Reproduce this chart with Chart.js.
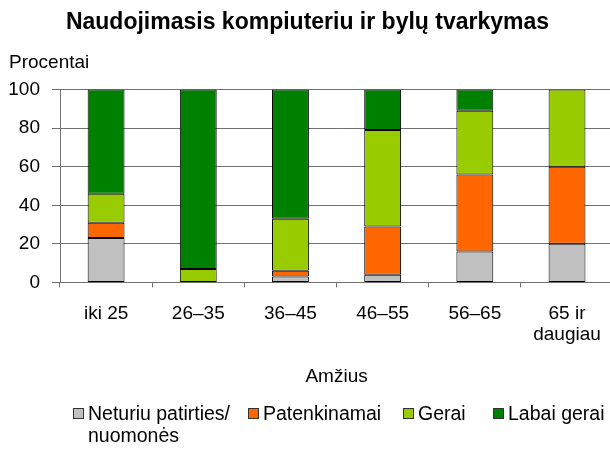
<!DOCTYPE html>
<html>
<head>
<meta charset="utf-8">
<script src="https://cdn.jsdelivr.net/npm/chart.js@4/dist/chart.umd.min.js"></script>
<style>
  body { margin: 0; width: 610px; height: 449px; overflow: hidden; background: #fff; font-family: "Liberation Sans", Arial, sans-serif; }
  #wrap { position: relative; width: 617px; height: 449px; }
  #ylab { position: absolute; left: 9px; top: 51px; font-size: 19px; color: #000; }
  .leg { position: absolute; top: 402px; font-size: 19.5px; line-height: 22px; color: #000; padding-left: 15px; }
  .leg i { position: absolute; left: 0; top: 6px; width: 11px; height: 11px; border: 1px solid #333; box-sizing: border-box; }
</style>
</head>
<body>
<div id="wrap">
  <canvas id="chart" width="617" height="449"></canvas>
  <div id="ylab">Procentai</div>
  <div id="legend"></div>
</div>
<script>
// age groups
const categories = ["iki 25", "26–35", "36–45", "46–55", "56–65", ["65 ir", "daugiau"]]

// percent of answers in each group
const neturiu = [23, 0, 3, 4, 16, 20]
const patenkinamai = [8, 0, 3, 25, 40, 40]
const gerai = [15, 7, 27, 50, 33, 40]
const labaiGerai = [54, 93, 67, 21, 11, 0]

const seriesNames = ["Neturiu patirties/\nnuomonės", "Patenkinamai", "Gerai", "Labai gerai"]
const seriesColors = ["#C0C0C0", "#FF6600", "#99CC00", "#008000"]
const yTicks = [0, 20, 40, 60, 80, 100]

const seriesData = [neturiu, patenkinamai, gerai, labaiGerai]
let datasets = []
for (let i = 0; i < seriesData.length; i++) {
  datasets.push({
    label: seriesNames[i],
    data: seriesData[i],
    backgroundColor: seriesColors[i],
    borderColor: "#000",
    borderWidth: 1,
    borderSkipped: false,
    barPercentage: 0.4,
    categoryPercentage: 1
  })
}

// html legend (first label wraps onto two lines)
const legendLeft = [73, 248, 403, 493]
let legendHtml = ""
for (let i = 0; i < seriesNames.length; i++) {
  legendHtml += '<div class="leg" style="left:' + legendLeft[i] + 'px"><i style="background:' + seriesColors[i] + '"></i>' +
    seriesNames[i].replace("\n", "<br>") + '</div>'
}
document.getElementById("legend").innerHTML = legendHtml

const font = { family: "'Liberation Sans', Arial, sans-serif", size: 19 }

new Chart(document.getElementById("chart"), {
  type: 'bar',
  data: { labels: categories, datasets: datasets },
  options: {
    responsive: false,
    animation: false,
    layout: { padding: { top: 0, right: 2, bottom: 61, left: 0 } },
    plugins: {
      legend: { display: false },
      tooltip: { enabled: false },
      title: {
        display: true,
        text: "Naudojimasis kompiuteriu ir bylų tvarkymas",
        color: "#000",
        font: { family: font.family, size: 23, weight: "bold" },
        padding: { top: 9, bottom: 53 }
      }
    },
    scales: {
      x: {
        stacked: true,
        grid: { drawOnChartArea: false, drawTicks: true, tickLength: 5, color: "#707070", offset: true },
        border: { color: "#707070" },
        ticks: { color: "#000", font: { family: font.family, size: 19, lineHeight: 1.1 }, padding: 16, maxRotation: 0, autoSkip: false },
        title: { display: true, text: "Amžius", color: "#000", font: font, padding: { top: 4, bottom: 0 } }
      },
      y: {
        stacked: true,
        min: 0,
        max: 100,
        afterBuildTicks: (scale) => { scale.ticks = yTicks.map(v => ({ value: v })) },
        afterFit: (scale) => { scale.width = 60 },
        grid: { color: "#707070", tickLength: 8 },
        border: { color: "#707070" },
        ticks: { color: "#000", font: font, padding: 12 }
      }
    }
  }
})
</script>
</body>
</html>
